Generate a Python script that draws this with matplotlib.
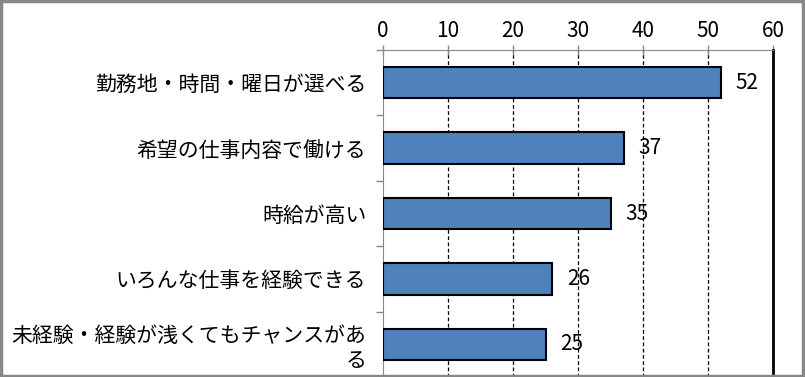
import numpy as np
import matplotlib.pyplot as plt
from matplotlib.patches import Rectangle

plt.rcParams['font.family'] = ['Noto Sans CJK JP', 'DejaVu Sans']

# data
labels = ["勤務地・時間・曜日が選べる", "希望の仕事内容で働ける", "時給が高い",
          "いろんな仕事を経験できる", "未経験・経験が浅くてもチャンスがあ\nる"]
values = [52, 37, 35, 26, 25]
xticks = [0, 10, 20, 30, 40, 50, 60]

fig = plt.figure(figsize=(8.05, 3.77), dpi=100)
ax = fig.add_axes([383/805, 0.0, 390/805, 327/377])

y = np.arange(len(labels))
ax.barh(y, values, height=0.48, color='#4F81BD', edgecolor='black', linewidth=1.5, zorder=3)

# value labels
for yi, v in zip(y, values):
    ax.text(v + 2.3, yi, str(v), va='center', ha='left', fontsize=15, zorder=4)

ax.set_xlim(0, 60)
ax.set_ylim(len(labels) - 0.5, -0.5)

# x axis on top
ax.xaxis.set_ticks_position('top')
ax.xaxis.set_label_position('top')
ax.set_xticks(xticks)
ax.tick_params(axis='x', direction='inout', length=7, color='#888888', width=1,
               labelsize=15, pad=2)

# y axis: labels at centres, ticks at boundaries
ax.set_yticks(y)
ax.set_yticklabels(labels, fontsize=15, ha='right', multialignment='right')
ax.tick_params(axis='y', length=0, pad=12)
ax.set_yticks(np.arange(-0.5, len(labels), 1), minor=True)
ax.tick_params(axis='y', which='minor', length=5, color='#888888', width=1)

# grid
for xv in xticks[1:-1]:
    ax.axvline(xv, color='black', linestyle=(0, (3, 2)), linewidth=0.9, zorder=1)

ax.spines['left'].set_color('#888888')
ax.spines['top'].set_color('#888888')
ax.spines['right'].set_color('black')
ax.spines['right'].set_linewidth(2)
ax.spines['bottom'].set_visible(False)

# outer border
fig.patches.append(Rectangle((0.001, 0.002), 0.997, 0.995, transform=fig.transFigure,
                             fill=False, edgecolor='#888888', linewidth=2.5))

fig.savefig("out.png", dpi=100)
